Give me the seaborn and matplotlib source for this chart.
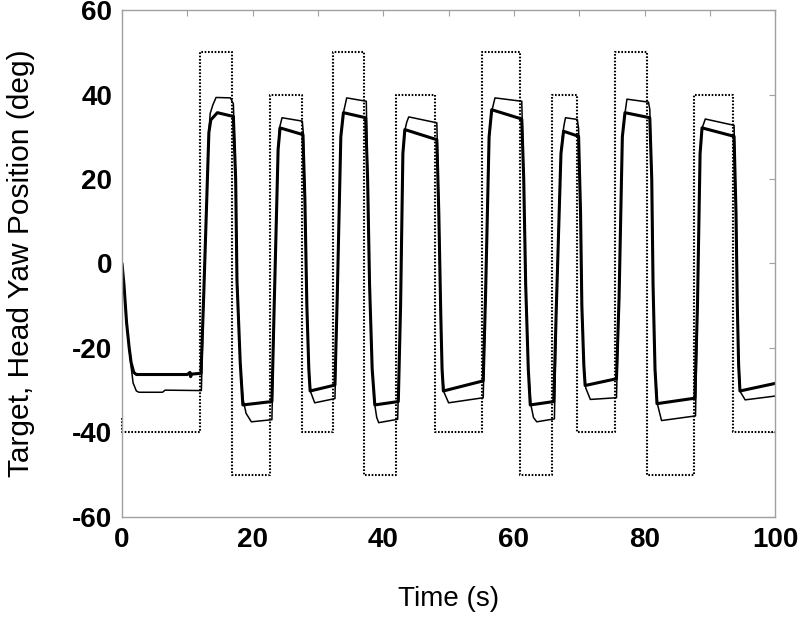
import matplotlib
matplotlib.use("Agg")
import matplotlib.pyplot as plt
import seaborn as sns
import pandas as pd
from matplotlib.ticker import MultipleLocator

# target step signal (value holds until next time)
target_t = [0, 0, 11.9, 16.8, 22.7, 27.5, 32.3, 37.1, 42.0, 47.9, 55.1,
            61.0, 65.9, 69.6, 75.5, 80.4, 87.6, 93.6, 100]
target_v = [-36.5, -40, 50, -50, 40, -40, 50, -50, 40, -40, 50,
            -50, 40, -40, 50, -50, 40, -40, -40]

# head yaw, trial 1 (thick)
thick_t = [0, 0.3, 0.7, 1.1, 1.4, 1.8, 2.2, 10.0, 10.4, 10.5, 10.7, 12.1,
           12.5, 13.3, 13.6, 14.6, 17.05,
           17.4, 17.6, 18.1, 18.5, 22.95,
           23.3, 23.9, 24.2, 27.7,
           28.0, 28.3, 28.6, 28.8, 32.6,
           32.95, 33.5, 33.9, 37.3,
           37.6, 37.9, 38.3, 38.7, 42.3,
           42.65, 43.0, 43.3, 48.2,
           48.5, 48.8, 49.0, 49.2, 55.3,
           55.65, 56.2, 56.6, 61.2,
           61.5, 61.8, 62.2, 62.5, 66.1,
           66.5, 67.2, 67.6, 69.9,
           70.2, 70.4, 70.7, 70.9, 75.7,
           76.1, 76.6, 77.0, 80.8,
           81.1, 81.3, 81.6, 81.9, 87.7,
           88.1, 88.5, 88.8, 93.7,
           94.0, 94.2, 94.4, 94.6, 100]
thick_v = [0, -5, -14, -20, -23.5, -25.8, -26.3, -26.3, -25.8, -26.8, -26.2, -26.0,
           -8, 31, 34.0, 35.7, 34.8,
           20, -4, -23.5, -33.5, -32.7,
           -10, 27, 32.1, 30.5,
           15, -10, -25, -30.2, -28.8,
           -8, 30, 35.7, 34.5,
           20, -5, -25, -33.5, -32.7,
           -10, 26, 31.7, 29.3,
           12, -12, -25, -30.2, -27.8,
           -8, 30, 36.4, 34.2,
           20, -5, -25, -33.5, -32.7,
           -10, 26, 31.3, 30.1,
           12, -10, -24, -28.9, -27.3,
           -8, 30, 35.7, 34.5,
           20, -5, -25, -33.2, -31.9,
           -10, 26, 32.1, 30.1,
           12, -10, -24, -30.2, -28.4]

# head yaw, trial 2 (thin)
thin_t = [0, 0.3, 0.7, 1.1, 1.4, 1.7, 2.2, 2.6, 6.2, 6.6, 12.15,
          12.5, 13.3, 13.5, 13.9, 14.4, 16.6, 17.05,
          17.4, 17.6, 18.1, 18.5, 19.0, 19.8, 22.95,
          23.3, 23.9, 24.1, 24.5, 27.6, 27.75,
          28.0, 28.3, 28.6, 28.9, 29.5, 32.6,
          32.95, 33.5, 33.8, 34.0, 34.4, 37.4,
          37.6, 37.9, 38.3, 38.7, 39.0, 39.3, 42.2,
          42.65, 43.0, 43.3, 43.6, 43.9, 48.2,
          48.5, 48.8, 49.0, 49.3, 50.0, 55.3,
          55.65, 56.2, 56.6, 57.1, 61.2,
          61.5, 61.8, 62.2, 62.6, 63.0, 63.5, 66.2,
          66.5, 67.2, 67.5, 67.7, 67.9, 69.7, 69.9,
          70.2, 70.4, 70.7, 71.0, 71.7, 75.7,
          76.1, 76.6, 77.0, 77.3, 80.6, 80.8,
          81.1, 81.3, 81.6, 82.0, 82.6, 87.8,
          88.1, 88.5, 88.8, 89.3, 93.7,
          94.0, 94.2, 94.4, 94.7, 95.4, 100]
thin_v = [0, -5, -14, -20, -24.5, -28.3, -30.2, -30.5, -30.5, -30.0, -30.1,
          -8, 31, 35.5, 37.5, 39.3, 39.2, 37.8,
          20, -4, -23.5, -32, -35.5, -37.5, -37.0,
          -10, 27, 32, 34.5, 33.7, 31,
          15, -10, -25, -30.5, -33, -32.0,
          -8, 30, 35, 36.4, 39.2, 38.4,
          20, -5, -25, -33.5, -36.5, -37.7, -36.9,
          -10, 26, 31.5, 33.5, 34.7, 33.3,
          12, -12, -25, -30.5, -33, -31.8,
          -8, 30, 36, 39.2, 38.4,
          20, -5, -25, -33.5, -36.5, -37.5, -36.8,
          -10, 26, 31, 33, 34.5, 34.1, 32,
          12, -10, -24, -29.5, -32.2, -31.8,
          -8, 30, 35.5, 38.9, 38.2, 36.5,
          20, -5, -25, -33.5, -37.2, -36.1,
          -10, 26, 32, 34.2, 32.7,
          12, -10, -24, -30.5, -32.3, -31.4]

target = pd.DataFrame({"t": target_t, "v": target_v})
thick = pd.DataFrame({"t": thick_t, "v": thick_v})
thin = pd.DataFrame({"t": thin_t, "v": thin_v})

sns.set_theme(style="white")
plt.rcParams["font.family"] = ["Liberation Sans", "DejaVu Sans"]
plt.rcParams["axes.unicode_minus"] = False

fig = plt.figure(figsize=(8, 6.28), dpi=100)
ax = fig.add_axes([0.1525, 0.177, 0.8165, 0.807])

sns.lineplot(data=target, x="t", y="v", ax=ax, color="black", lw=1.5,
             dashes=False, linestyle=(0, (0.8, 0.8)), drawstyle="steps-post",
             estimator=None, sort=False, clip_on=False)
sns.lineplot(data=thin, x="t", y="v", ax=ax, color="black", lw=1.1,
             estimator=None, sort=False)
sns.lineplot(data=thick, x="t", y="v", ax=ax, color="black", lw=2.2,
             estimator=None, sort=False)

ax.set_xlim(0, 100)
ax.set_ylim(-60, 60)
ax.xaxis.set_major_locator(MultipleLocator(20))
ax.xaxis.set_minor_locator(MultipleLocator(10))
ax.yaxis.set_major_locator(MultipleLocator(20))

for s in ax.spines.values():
    s.set_color("#a0a0a0")
    s.set_linewidth(1.0)

ax.tick_params(which="both", direction="in", top=True, right=True,
               length=4.5, width=0.8, color="#a0a0a0")
ax.tick_params(axis="x", which="major", pad=7)
ax.tick_params(axis="y", which="major", pad=7)
for lab in ax.get_xticklabels() + ax.get_yticklabels():
    lab.set_fontsize(20)
    lab.set_fontweight("bold")
    lab.set_color("black")

ax.set_xlabel("Time (s)", fontsize=20, color="black", labelpad=24)
ax.set_ylabel("Target, Head Yaw Position (deg)", fontsize=21.5,
              color="black", labelpad=27)

fig.savefig("out.png", dpi=100)
